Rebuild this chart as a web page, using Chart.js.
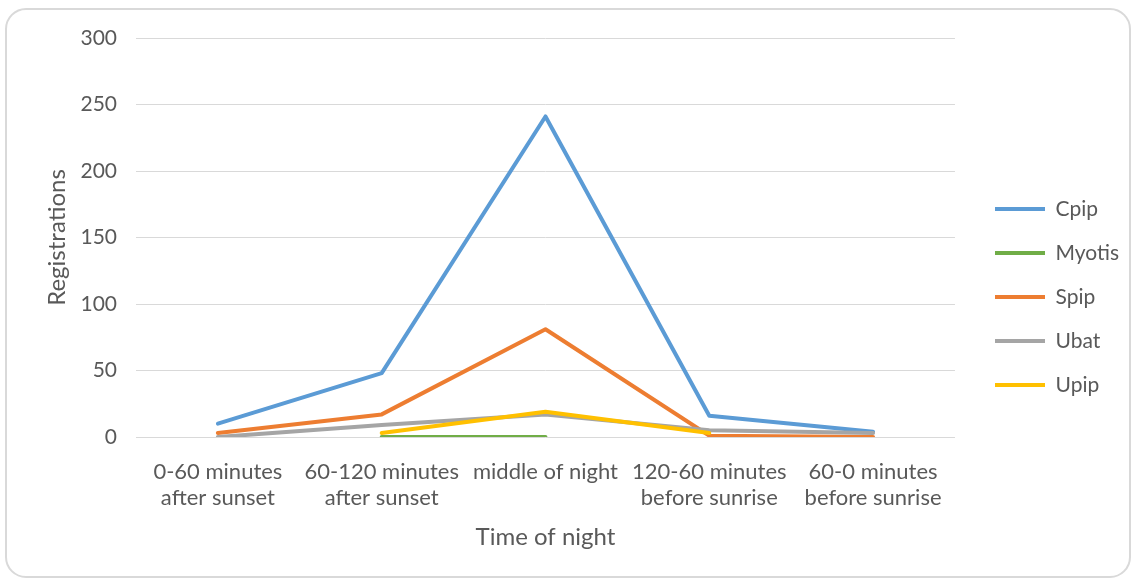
<!DOCTYPE html>
<html>
<head>
<meta charset="utf-8">
<script src="https://cdn.jsdelivr.net/npm/chart.js@4"></script>
<style>
  html, body { margin: 0; padding: 0; background: #fff; }
  #wrap { width: 1138px; height: 583px; }
</style>
</head>
<body>
<div id="wrap"><canvas id="myChart" width="1138" height="583"></canvas></div>
<script>
var timeOfNight = [
  ['0-60 minutes', 'after sunset'],
  ['60-120 minutes', 'after sunset'],
  'middle of night',
  ['120-60 minutes', 'before sunrise'],
  ['60-0 minutes', 'before sunrise']
];
var cpip = [10, 48, 241, 16, 4];
var myotis = [null, 0, 0, null, null];
var spip = [3, 17, 81, 1, 0];
var ubat = [0, 9, 17, 5, 3];
var upip = [null, 3, 19, 3, null];
var yTicks = [0, 50, 100, 150, 200, 250, 300];

var textColor = '#595959';
var fontFamily = 'Lato, "Open Sans", sans-serif';

// rounded frame around the whole chart
var framePlugin = {
  id: 'frame',
  beforeDraw: function(chart) {
    var c = chart.ctx;
    c.save();
    c.fillStyle = '#fff';
    c.fillRect(0, 0, chart.width, chart.height);
    c.strokeStyle = '#d9d9d9';
    c.lineWidth = 2;
    c.beginPath();
    c.roundRect(6, 9, 1124, 568, 20);
    c.stroke();
    c.restore();
  }
};

// push the legend a bit to the right of the plot
var legendShift = {
  id: 'legendShift',
  afterLayout: function(chart) {
    var lg = chart.legend;
    var dx = 972 - lg.left;
    lg.left += dx;
    lg.right += dx;
  }
};

function line(label, data, color, order) {
  return {
    label: label,
    data: data,
    borderColor: color,
    backgroundColor: color,
    borderWidth: 4,
    borderCapStyle: 'round',
    borderJoinStyle: 'round',
    pointRadius: 0,
    pointHoverRadius: 0,
    tension: 0,
    fill: false,
    spanGaps: false,
    order: order
  };
}

var ctx = document.getElementById('myChart').getContext('2d');

var myChart = new Chart(ctx, {
  type: 'line',
  data: {
    labels: timeOfNight,
    datasets: [
      line('Cpip', cpip, '#5B9BD5', 5),
      line('Myotis', myotis, '#70AD47', 4),
      line('Spip', spip, '#ED7D31', 3),
      line('Ubat', ubat, '#A5A5A5', 2),
      line('Upip', upip, '#FFC000', 1)
    ]
  },
  plugins: [framePlugin, legendShift],
  options: {
    responsive: false,
    animation: false,
    layout: {
      padding: { left: 39, right: 26, top: 38, bottom: 27 }
    },
    plugins: {
      tooltip: { enabled: false },
      legend: {
        position: 'right',
        labels: {
          usePointStyle: true,
          pointStyle: 'line',
          pointStyleWidth: 50,
          padding: 23,
          color: textColor,
          font: { family: fontFamily, size: 21 },
          sort: function(a, b) { return a.datasetIndex - b.datasetIndex; }
        }
      }
    },
    scales: {
      x: {
        offset: true,
        grid: { display: false },
        border: { display: false },
        ticks: {
          color: textColor,
          font: { family: fontFamily, size: 22, lineHeight: 1.22 },
          padding: 13,
          maxRotation: 0,
          autoSkip: false
        },
        title: {
          display: true,
          text: 'Time of night',
          color: textColor,
          font: { family: fontFamily, size: 24 }
        },
        afterFit: function(scale) { scale.height = 119; }
      },
      y: {
        min: 0,
        max: 300,
        afterBuildTicks: function(scale) {
          scale.ticks = yTicks.map(function(v) { return { value: v }; });
        },
        grid: { color: '#d9d9d9', lineWidth: 1, drawTicks: false },
        border: { display: false },
        ticks: {
          color: textColor,
          font: { family: fontFamily, size: 21 },
          padding: 19
        },
        title: {
          display: true,
          text: 'Registrations',
          color: textColor,
          font: { family: fontFamily, size: 24 }
        },
        afterFit: function(scale) { scale.width = 97; }
      }
    }
  }
});
</script>
</body>
</html>
